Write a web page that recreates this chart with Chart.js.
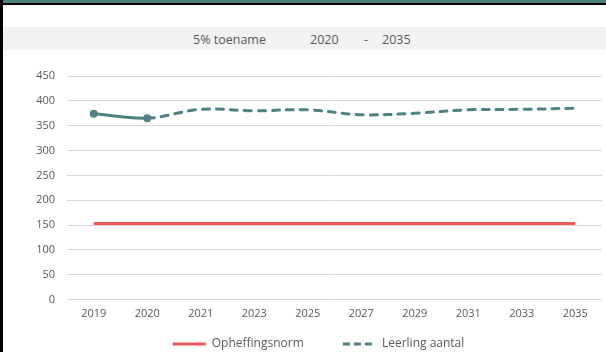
<!DOCTYPE html>
<html>
<head>
<meta charset="utf-8">
<script src="https://cdn.jsdelivr.net/npm/chart.js@4.4.1/dist/chart.umd.min.js"></script>
<style>
  html, body { margin: 0; padding: 0; background: #fff; }
  #wrap { position: relative; width: 606px; height: 352px; overflow: hidden; background: #fff; }
  #topbar { position: absolute; left: 0; top: 0; width: 606px; height: 3px; background: #4a7f80; }
  #topline { position: absolute; left: 0; top: 3px; width: 606px; height: 2px; background: #000; }
  #leftline { position: absolute; left: 0; top: 0; width: 3px; height: 352px; background: #000; }
  #band { position: absolute; left: 3px; top: 27px; width: 603px; height: 23px; background: #f2f2f2;
          font-family: "Open Sans", sans-serif; font-size: 12.5px; color: #595959; line-height: 25px; }
  #band span { position: absolute; top: 0; }
  #chartBox { position: absolute; left: 31px; top: 52px; width: 575px; height: 308px; }
</style>
</head>
<body>
<div id="wrap">
  <div id="topbar"></div>
  <div id="topline"></div>
  <div id="leftline"></div>
  <div id="band">
    <span style="left:190px">5% toename</span>
    <span style="left:307px">2020</span>
    <span style="left:361px">-</span>
    <span style="left:379px">2035</span>
  </div>
  <div id="chartBox"><canvas id="chart"></canvas></div>
</div>
<script>
const years = ["2019", "2020", "2021", "2023", "2025", "2027", "2029", "2031", "2033", "2035"];
const leerlingAantal = [374, 365, 383, 380, 382, 372, 375, 382, 383, 385];
const opheffingsnorm = [153, 153, 153, 153, 153, 153, 153, 153, 153, 153];
const yTicks = [0, 50, 100, 150, 200, 250, 300, 350, 400, 450];

const teal = "#4e8183";
const red = "#ef5656";
const textColor = "#595959";
const font = { family: "Open Sans", size: 11 };

const ctx = document.getElementById("chart").getContext("2d");
const myChart = new Chart(ctx, {
  type: "line",
  data: {
    labels: years,
    datasets: [
      {
        label: "Opheffingsnorm",
        data: opheffingsnorm,
        borderColor: red,
        backgroundColor: red,
        borderWidth: 3,
        pointRadius: 0,
        tension: 0,
      },
      {
        label: "Leerling aantal",
        data: leerlingAantal,
        borderColor: teal,
        backgroundColor: teal,
        borderWidth: 3,
        borderCapStyle: "round",
        pointRadius: leerlingAantal.map((v, i) => (i < 2 ? 4 : 0)),
        pointBorderWidth: 0,
        tension: 0.35,
        segment: {
          borderDash: (c) => (c.p0DataIndex < 1 ? [] : [7, 7]),
        },
      },
    ],
  },
  options: {
    responsive: true,
    maintainAspectRatio: false,
    animation: false,
    events: [],
    layout: { padding: { top: 24, right: 0, left: 0, bottom: 0 } },
    scales: {
      x: {
        offset: true,
        grid: { display: false, drawTicks: false },
        border: { display: false },
        // empty title only used as spacing below the year labels
        title: { display: true, text: " ", color: "rgba(0,0,0,0)", font: { size: 1 }, padding: { top: 0, bottom: 0 } },
        ticks: { color: textColor, font: font, maxRotation: 0, autoSkip: false, padding: 8 },
      },
      y: {
        min: 0,
        max: 450,
        afterFit: (s) => { s.width = 36; },
        afterBuildTicks: (s) => { s.ticks = yTicks.map((v) => ({ value: v })); },
        grid: { color: "#d9d9d9", lineWidth: 1, drawTicks: false },
        border: { display: false },
        ticks: { color: textColor, font: font, padding: 12 },
      },
    },
    plugins: {
      tooltip: { enabled: false },
      legend: {
        position: "bottom",
        labels: {
          color: textColor,
          font: { family: "Open Sans", size: 12 },
          usePointStyle: true,
          pointStyle: "line",
          pointStyleWidth: 33,
          boxHeight: 8,
          padding: 8,
          generateLabels: (chart) =>
            chart.data.datasets.map((ds, i) => ({
              text: i === 0 ? ds.label + "          " : ds.label,
              datasetIndex: i,
              pointStyle: "line",
              strokeStyle: ds.borderColor,
              fillStyle: ds.borderColor,
              fontColor: textColor,
              lineWidth: 3,
              lineDash: i === 1 ? [7, 4] : [],
              lineCap: "butt",
              hidden: false,
            })),
        },
      },
    },
  },
});
</script>
</body>
</html>
